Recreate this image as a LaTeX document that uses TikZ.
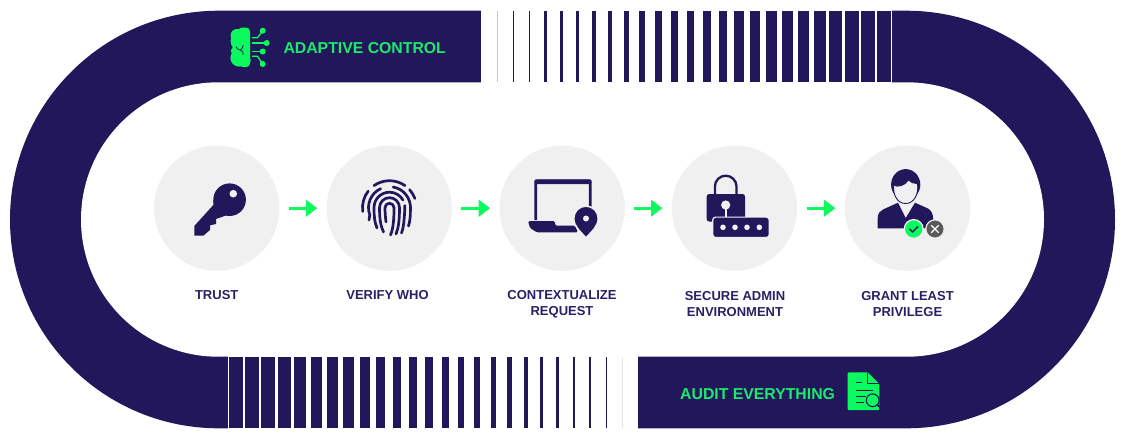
\documentclass[tikz,border=0pt]{standalone}
\usepackage{fontspec}
\usetikzlibrary{arrows.meta}
\setmainfont{Liberation Sans}
\definecolor{navy}{HTML}{21175A}
\definecolor{lime}{HTML}{0BFB5E}
\definecolor{limetext}{HTML}{1BEA6C}
\definecolor{paleg}{HTML}{F0F0F1}
\definecolor{labelc}{HTML}{2A2066}
\definecolor{greyx}{HTML}{5A5A5C}
\def\arcp#1#2#3#4#5{([shift={(#4:#3pt)}]#1,#2) arc[start angle=#4,end angle=#5,radius=#3pt]}
\tikzset{
  discnode/.style={circle,fill=paleg,minimum size=125.2pt,inner sep=0pt,outer sep=9.5pt},
  flow/.style={draw=lime,line width=3pt,-{Triangle[length=11.4pt,width=16.5pt]}},
  steplabel/.style={font=\bfseries\fontsize{13}{16}\selectfont,text=labelc,align=center,inner sep=0pt},
  bandlabel/.style={font=\bfseries\fontsize{15.8}{18}\selectfont,text=limetext,inner sep=0pt},
  ridge/.style={draw=navy,line width=2.7pt,line cap=round,line join=round},
  bar/.style={fill=navy}
}
\begin{document}
\begin{tikzpicture}[x=1pt,y=-1pt]
\useasboundingbox (0,0) rectangle (1125,440);
\fill[white] (0,0) rectangle (1125,440);
% ring
\fill[navy,rounded corners=208.8pt] (10,10.7) rectangle (1115,428.3);
\fill[white,rounded corners=137.2pt] (81,82.3) rectangle (1044,356.7);
% stripe openings
\fill[white] (481,9) rectangle (892,84);
\fill[white] (228,355) rectangle (638,430);
\fill[navy!25] (497,10.7) rectangle (497.9,82.3);
\fill[navy!12] (621.7,356.7) rectangle (622.9,428.3);
\foreach \k in {1,...,24}{
  \pgfmathsetmacro\xa{497+15.83*\k}
  \pgfmathsetmacro\wa{min(0.3+0.6*\k,13.8)}
  \fill[bar] (\xa,10.7) rectangle (\xa+\wa,82.3);
  \pgfmathsetmacro\xb{622-16.39*\k}
  \pgfmathsetmacro\wb{0.3+0.59*\k}
  \fill[bar] (\xb,356.7) rectangle (\xb+\wb,428.3);
}
% discs
\node[discnode] (trust) at (216.7,208.2) {};
\node[discnode] (verify) at (389.3,208.2) {};
\node[discnode] (context) at (562.2,208.2) {};
\node[discnode] (secure) at (734.5,208.2) {};
\node[discnode] (grant) at (907.5,208.2) {};
\draw[flow] (trust) -- (verify);
\draw[flow] (verify) -- (context);
\draw[flow] (context) -- (secure);
\draw[flow] (secure) -- (grant);
% labels
\node[steplabel] (ltrust) at (216.7,295.5) {TRUST};
\node[steplabel] (lverify) at (387.5,295.5) {VERIFY WHO};
\node[steplabel] (lcontext) at (562,304.5) {CONTEXTUALIZE\\REQUEST};
\node[steplabel] (lsecure) at (735,304.5) {SECURE ADMIN\\ENVIRONMENT};
\node[steplabel] (lgrant) at (907.5,304.5) {GRANT LEAST\\PRIVILEGE};
\node[bandlabel,anchor=west] (ladapt) at (283.3,48) {ADAPTIVE CONTROL};
\node[bandlabel,anchor=west] (laudit) at (680,394) {AUDIT EVERYTHING};
% key
\fill[navy] (229.6,199.7) circle (16.3pt);
\fill[navy,line join=round] (194.3,226) -- (194.3,235.7) -- (203.3,235.7) -- (210,230) -- (210,225.3) -- (216,224) -- (216,219) -- (226,215.5) -- (226,200) -- (213.4,200) -- (213.3,205) -- cycle;
\fill[paleg] (233.3,193.7) circle (3.8pt);
% fingerprint
\draw[ridge] \arcp{389.5}{207.7}{27}{55}{125};
\draw[ridge] \arcp{389.5}{207.7}{27}{142}{188};
\draw[ridge] \arcp{389.5}{207.7}{27}{20}{42};
\draw[ridge] \arcp{389.5}{207.7}{21}{115}{200} -- (369,220);
\draw[ridge] \arcp{389.5}{207.7}{21}{80}{-5} .. controls (410.5,216) and (410,221) .. (408.5,226);
\draw[ridge] (377,228) .. controls (374.5,222) and (374,216) .. (374,207.7) arc[start angle=180,end angle=30,radius=15.5pt];
\draw[ridge] \arcp{389.5}{207.7}{15.5}{8}{-10} .. controls (404,222) and (403.5,228) .. (401.5,233);
\draw[ridge] (383.5,232) .. controls (380.5,226) and (379.5,218) .. (379.5,207.7) arc[start angle=180,end angle=0,radius=10pt] .. controls (399.5,220) and (398.5,228) .. (396,234);
\draw[ridge] (386,222) .. controls (385.3,216) and (385,212) .. (385,207.7) arc[start angle=180,end angle=0,radius=4.5pt] .. controls (394,218) and (393.5,228) .. (390.5,235);
% laptop
\draw[navy,line width=2.8pt,rounded corners=2.5pt] (535.7,220) -- (535.7,181) -- (590.3,181) -- (590.3,207);
\fill[navy,rounded corners=1.5pt] (534.3,179.3) rectangle (591.7,184);
\fill[navy,rounded corners=1.5pt] (528,221) -- (555,221) -- (555,225.7) -- (575,225.7) -- (578,232.4) -- (537,232.4) -- (530,228) -- cycle;
\fill[navy,draw=paleg,line width=1.5pt] (586,237.9) .. controls (580,231) and (573.8,226.5) .. (573.8,218.3) arc[start angle=180,end angle=0,radius=12.2pt] .. controls (598.2,226.5) and (592,231) .. (586,237.9) -- cycle;
\fill[paleg] (586,218.5) circle (3pt);
% lock
\draw[navy,line width=2.3pt] (714.9,195) -- (714.9,186.5) arc[start angle=180,end angle=0,radius=10.8pt] -- (736.5,195);
\fill[navy,rounded corners=2.5pt] (706.7,194) rectangle (745,221.5);
\fill[paleg] (725.7,205) circle (4.6pt);
\draw[paleg,line width=2pt] (725.7,205) -- (725.7,218);
\fill[navy,draw=paleg,line width=1.2pt,rounded corners=3pt] (712.7,217.1) rectangle (769.3,237.5);
\foreach \xd in {723,735,747,759.3}{\fill[paleg] (\xd,227.3) circle (2.8pt);}
% user
\fill[navy] (877.7,228.3) -- (877.7,218) .. controls (878,213) and (880,211) .. (883,209.5) -- (898,202.7) -- (905.7,218) -- (915,202.7) -- (928,208.5) .. controls (931,210) and (933.3,214) .. (933.3,220) -- (933.3,228.3) -- cycle;
\fill[navy] (905.7,184.6) ellipse[x radius=14.6pt,y radius=15.5pt];
\fill[paleg,draw=navy,line width=.9pt] (893.8,185) .. controls (897,187.5) and (905,186) .. (908.3,180) .. controls (910.5,182.5) and (914,183.5) .. (917.5,183.6) .. controls (919,194) and (914,203.5) .. (905.7,203.5) .. controls (897.5,203.5) and (892.5,195) .. (893.8,185) -- cycle;
\fill[lime,draw=paleg,line width=1.3pt] (913.7,229) circle (9.4pt);
\draw[navy,line width=1.3pt,line cap=round,line join=round] (909.7,229) -- (912.6,232) -- (918,226.5);
\fill[greyx,draw=paleg,line width=1.2pt] (935,229) circle (9.2pt);
\draw[white,line width=1.3pt,line cap=round] (931.7,225.7) -- (938.3,232.3) (931.7,232.3) -- (938.3,225.7);
% brain
\fill[lime] (237,35.5) circle (6.5pt) (243,34) circle (6.5pt) (240,41) circle (9.5pt) (239,58) circle (8.6pt) (236,51) circle (5.2pt) (244,60.5) circle (6.6pt);
\fill[lime,rounded corners=4pt] (241,27.5) rectangle (250,67.2);
\fill[navy] (228,45.5) -- (232,47) -- (232,48) -- (228,48.5) -- cycle;
\draw[navy,line width=.8pt] (243.3,45) .. controls (243,47) and (242,49) .. (240.5,50) (236,46.7) .. controls (237,49) and (238.5,50) .. (240.5,50) (240.5,50) .. controls (243,51) and (243.5,53) .. (243,55);
\draw[lime,line width=1.3pt,line join=round] (252,37.7) -- (257.5,37.7) -- (262.7,30.7);
\draw[lime,line width=1.3pt] (252,43) -- (266.7,43);
\draw[lime,line width=1.3pt] (252,51.5) -- (262.7,51.5);
\draw[lime,line width=1.3pt,line join=round] (252,56.3) -- (257.5,56.3) -- (262.7,64);
\fill[lime] (262.7,30.7) circle (3pt) (266.7,43) circle (3pt) (262.7,51.5) circle (3pt) (262.7,64) circle (3pt);
% document
\fill[lime,rounded corners=1pt] (847.7,372.3) -- (867.7,372.3) -- (879.3,384) -- (879.3,410) -- (847.7,410) -- cycle;
\draw[navy,line width=.7pt] (867.7,373) -- (867.7,383.3) -- (878.6,383.3);
\draw[navy,line width=.8pt] (856,382.7) -- (861.5,382.7) (856,390) -- (873,390) (856,396) -- (866,396) (856,402.3) -- (864,402.3);
\draw[navy,fill=lime,line width=1.1pt] (872.7,400.3) circle (6.4pt);
\draw[navy,line width=1.8pt,line cap=round] (877.5,405) -- (881.2,408.4);
\end{tikzpicture}
\end{document}
